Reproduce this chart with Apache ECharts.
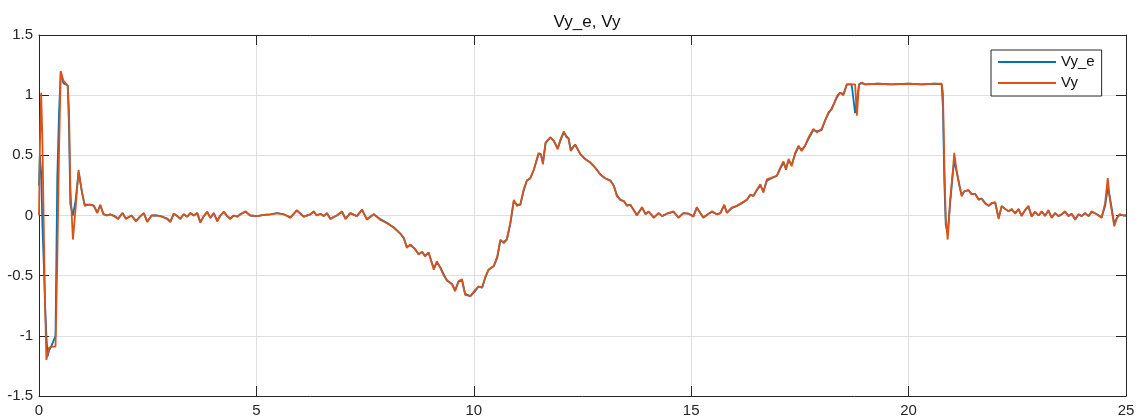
<!DOCTYPE html>
<html>
<head>
<meta charset="utf-8">
<script src="https://cdn.jsdelivr.net/npm/echarts@6/dist/echarts.min.js"></script>
<style>html,body{margin:0;padding:0;background:#fff}#c{width:1142px;height:419px}</style>
</head>
<body>
<div id="c"></div>
<script>
const titleText = 'Vy_e, Vy';
const seriesNames = ['Vy_e', 'Vy'];
const xTicks = [0, 5, 10, 15, 20, 25];
const yTicks = [-1.5, -1, -0.5, 0, 0.5, 1, 1.5];

const time = [0,0.02,0.05,0.08,0.11,0.14,0.17,0.20,0.23,0.28,0.38,0.42,0.46,0.50,0.56,0.66,0.69,0.72,0.78,0.84,0.91,0.99,1.05,1.17,1.26,1.34,1.41,1.48,1.56,1.63,1.72,1.82,1.92,2.00,2.13,2.23,2.32,2.41,2.49,2.59,2.72,2.83,2.95,3.02,3.10,3.18,3.25,3.33,3.41,3.48,3.56,3.64,3.71,3.79,3.87,3.94,4.02,4.10,4.17,4.25,4.33,4.40,4.48,4.56,4.63,4.75,4.86,5.02,5.17,5.32,5.48,5.63,5.78,5.93,6.09,6.24,6.32,6.39,6.47,6.55,6.62,6.70,6.85,6.97,7.05,7.16,7.31,7.43,7.54,7.70,7.85,8.00,8.16,8.31,8.39,8.46,8.54,8.65,8.73,8.81,8.88,8.96,9.08,9.15,9.23,9.31,9.38,9.50,9.57,9.65,9.73,9.80,9.92,10.03,10.11,10.19,10.27,10.34,10.46,10.54,10.61,10.69,10.76,10.84,10.92,10.99,11.07,11.15,11.22,11.30,11.38,11.49,11.54,11.59,11.65,11.76,11.84,11.93,11.99,12.07,12.13,12.18,12.23,12.33,12.45,12.56,12.68,12.76,12.83,12.91,13.02,13.14,13.22,13.29,13.37,13.45,13.52,13.60,13.67,13.75,13.87,13.95,14.02,14.14,14.25,14.33,14.44,14.59,14.71,14.82,14.94,15.05,15.13,15.21,15.28,15.40,15.48,15.59,15.67,15.76,15.82,15.93,16.05,16.16,16.28,16.36,16.43,16.51,16.59,16.66,16.74,16.85,16.97,17.05,17.12,17.18,17.24,17.31,17.39,17.47,17.54,17.62,17.70,17.81,17.89,18.00,18.08,18.16,18.23,18.35,18.42,18.50,18.58,18.69,18.77,18.81,18.86,18.92,19.00,19.30,19.60,20.00,20.30,20.60,20.76,20.79,20.82,20.855,20.90,20.955,21.02,21.05,21.11,21.17,21.22,21.28,21.38,21.45,21.53,21.61,21.68,21.76,21.84,21.91,21.99,22.07,22.14,22.22,22.30,22.37,22.45,22.53,22.60,22.68,22.755,22.83,22.91,22.99,23.06,23.14,23.215,23.29,23.37,23.45,23.52,23.60,23.68,23.75,23.83,23.91,23.98,24.06,24.14,24.21,24.33,24.44,24.52,24.58,24.63,24.69,24.73,24.79,24.86,24.94,25.00];

const vy = [0.0,0.55,1.02,0.6,-0.1,-0.75,-1.2,-1.15,-1.10,-1.09,-1.09,-0.4,0.5,1.20,1.12,1.08,0.88,0.25,-0.2,0.05,0.38,0.19,0.08,0.09,0.085,0.02,0.09,0.01,0.0,0.01,-0.005,-0.03,0.02,-0.03,0.0,-0.05,-0.01,0.02,-0.055,0.0,0.0,-0.01,-0.03,-0.055,0.015,-0.005,-0.03,0.01,-0.01,0.02,0.0,0.02,-0.06,-0.005,0.03,-0.02,0.02,-0.05,0.0,0.03,-0.005,-0.03,0.0,-0.01,0.01,0.035,0.0,-0.005,0.005,0.01,0.02,0.01,-0.02,0.045,-0.01,0.01,0.035,0.0,0.015,-0.005,0.02,-0.03,0.0,0.035,-0.03,0.02,-0.005,0.05,-0.035,0.01,-0.035,-0.065,-0.10,-0.15,-0.185,-0.27,-0.24,-0.28,-0.325,-0.30,-0.34,-0.305,-0.45,-0.38,-0.435,-0.50,-0.535,-0.575,-0.63,-0.545,-0.53,-0.66,-0.67,-0.62,-0.59,-0.60,-0.505,-0.45,-0.42,-0.34,-0.20,-0.23,-0.20,-0.06,0.13,0.08,0.09,0.22,0.29,0.31,0.38,0.52,0.51,0.425,0.605,0.65,0.62,0.55,0.63,0.70,0.65,0.64,0.535,0.59,0.51,0.47,0.44,0.41,0.38,0.34,0.31,0.29,0.245,0.16,0.13,0.12,0.08,0.09,0.05,0.0,0.07,0.01,0.035,-0.02,0.02,-0.005,0.015,0.035,-0.02,0.02,0.015,-0.01,0.07,0.02,-0.02,0.015,0.035,0.01,0.02,0.09,0.02,0.065,0.08,0.105,0.13,0.175,0.16,0.215,0.26,0.19,0.30,0.315,0.33,0.40,0.45,0.38,0.47,0.41,0.52,0.58,0.535,0.58,0.65,0.72,0.69,0.72,0.79,0.86,0.88,0.99,1.02,1.0,1.09,1.09,1.09,0.83,1.09,1.105,1.09,1.095,1.09,1.095,1.09,1.095,1.095,1.02,0.47,-0.03,-0.2,0.13,0.38,0.52,0.355,0.245,0.16,0.20,0.21,0.175,0.18,0.13,0.14,0.10,0.08,0.105,0.11,-0.03,0.08,0.055,0.035,0.055,0.015,0.055,-0.005,0.045,0.08,-0.01,0.03,0.0,0.035,-0.005,0.045,-0.02,0.02,-0.005,0.01,0.035,-0.005,0.015,-0.035,0.01,-0.005,0.02,-0.005,0.035,0.01,-0.02,0.105,0.31,0.13,0.0,-0.09,-0.02,0.01,0.0,0.0];

const vyE = [0.25,0.5,0.35,-0.1,-0.4,-0.75,-1.0,-1.17,-1.12,-1.09,-1.0,0.3,0.85,1.19,1.10,1.08,0.74,0.1,0.0,0.12,0.36,0.19,0.09,0.09,0.08,0.025,0.085,0.015,0.0,0.01,0.0,-0.025,0.02,-0.025,0.0,-0.045,-0.01,0.02,-0.05,0.0,0.0,-0.01,-0.025,-0.05,0.015,-0.005,-0.025,0.01,-0.01,0.02,0.0,0.02,-0.055,-0.005,0.03,-0.02,0.02,-0.045,0.0,0.03,-0.005,-0.025,0.0,-0.01,0.01,0.03,0.0,-0.005,0.005,0.01,0.02,0.01,-0.015,0.04,-0.01,0.01,0.03,0.0,0.015,-0.005,0.02,-0.025,0.0,0.03,-0.025,0.02,-0.005,0.045,-0.03,0.01,-0.03,-0.06,-0.10,-0.15,-0.19,-0.26,-0.245,-0.28,-0.32,-0.305,-0.335,-0.31,-0.44,-0.39,-0.43,-0.49,-0.54,-0.57,-0.62,-0.55,-0.54,-0.65,-0.67,-0.63,-0.59,-0.60,-0.51,-0.45,-0.42,-0.35,-0.21,-0.22,-0.20,-0.07,0.12,0.09,0.09,0.21,0.29,0.31,0.38,0.51,0.51,0.44,0.60,0.65,0.62,0.56,0.62,0.69,0.66,0.64,0.545,0.59,0.51,0.47,0.44,0.41,0.38,0.34,0.31,0.29,0.25,0.17,0.13,0.12,0.085,0.09,0.05,0.005,0.065,0.015,0.03,-0.015,0.02,-0.005,0.015,0.03,-0.015,0.02,0.015,-0.005,0.065,0.02,-0.015,0.015,0.03,0.01,0.02,0.085,0.025,0.06,0.08,0.10,0.13,0.17,0.165,0.21,0.25,0.20,0.29,0.31,0.33,0.39,0.44,0.39,0.46,0.42,0.51,0.57,0.545,0.58,0.64,0.71,0.70,0.71,0.79,0.85,0.89,0.98,1.02,1.01,1.09,1.09,0.85,0.95,1.09,1.10,1.09,1.095,1.09,1.095,1.09,1.095,1.09,0.90,0.30,-0.08,-0.15,0.10,0.36,0.45,0.36,0.25,0.17,0.20,0.21,0.18,0.18,0.135,0.14,0.105,0.08,0.10,0.11,-0.02,0.075,0.055,0.035,0.05,0.02,0.05,0.0,0.045,0.075,-0.005,0.03,0.0,0.03,0.0,0.04,-0.015,0.02,-0.005,0.01,0.03,-0.005,0.015,-0.03,0.01,-0.005,0.02,-0.005,0.03,0.01,-0.015,0.08,0.23,0.15,0.02,-0.07,-0.02,0.01,0.0,0.0];

const pairs = (ys) => time.map((t, i) => [t, ys[i]]);

const chart = echarts.init(document.getElementById('c'), null, {renderer: 'canvas'});
const axisColor = '#262626';
const font = 'Liberation Sans, Arial, Helvetica, sans-serif';

const baseX = {
  type: 'value', min: xTicks[0], max: xTicks[xTicks.length - 1], interval: 5,
  axisLine: {show: true, onZero: false, lineStyle: {color: axisColor, width: 1}},
  axisTick: {show: true, inside: true, length: 10, lineStyle: {color: axisColor}},
};
const baseY = {
  type: 'value', min: yTicks[0], max: yTicks[yTicks.length - 1], interval: 0.5,
  axisLine: {show: true, onZero: false, lineStyle: {color: axisColor, width: 1}},
  axisTick: {show: true, inside: true, length: 10, lineStyle: {color: axisColor}},
};

chart.setOption({
  animation: false,
  backgroundColor: '#ffffff',
  title: {
    text: titleText, left: 582, top: 9, textAlign: 'center',
    textStyle: {fontFamily: font, fontSize: 17, fontWeight: 'normal', color: '#111'}
  },
  legend: {
    orient: 'vertical', left: 991, top: 50,
    data: seriesNames,
    backgroundColor: '#ffffff', borderColor: axisColor, borderWidth: 1, borderRadius: 0,
    padding: [3, 7, 4, 7], itemGap: 3, itemWidth: 58, itemHeight: 2, icon: 'rect',
    textStyle: {fontFamily: font, fontSize: 15, color: '#111', lineHeight: 18, padding: [0, 0, 0, 0]}
  },
  grid: {left: 39, right: 16, top: 35, bottom: 23, containLabel: false},
  xAxis: [
    Object.assign({}, baseX, {
      position: 'bottom',
      axisLabel: {show: true, margin: 7, fontFamily: font, fontSize: 15, color: axisColor},
      splitLine: {show: true, lineStyle: {color: '#dfdfdf', width: 1}}
    }),
    Object.assign({}, baseX, {position: 'top', axisLabel: {show: false}, splitLine: {show: false}})
  ],
  yAxis: [
    Object.assign({}, baseY, {
      position: 'left',
      axisLabel: {show: true, margin: 6, fontFamily: font, fontSize: 15, color: axisColor},
      splitLine: {show: true, lineStyle: {color: '#dfdfdf', width: 1}}
    }),
    Object.assign({}, baseY, {position: 'right', axisLabel: {show: false}, splitLine: {show: false}})
  ],
  series: [
    {name: seriesNames[0], type: 'line', data: pairs(vyE), showSymbol: false, symbol: 'none',
     color: '#0072BD', lineStyle: {color: '#0072BD', width: 1.8}, z: 2},
    {name: seriesNames[1], type: 'line', data: pairs(vy), showSymbol: false, symbol: 'none',
     color: '#D95319', lineStyle: {color: '#D95319', width: 1.8}, z: 3}
  ]
});
</script>
</body>
</html>
